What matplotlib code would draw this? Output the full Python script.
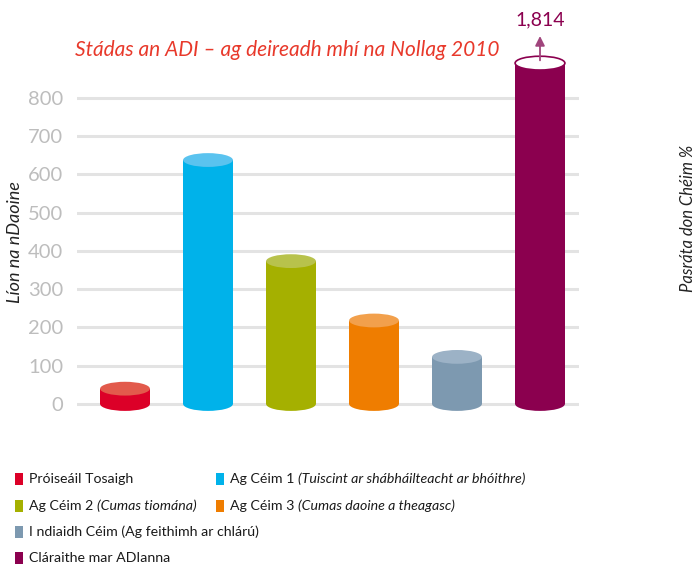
import matplotlib
matplotlib.use("Agg")
import matplotlib.pyplot as plt
from matplotlib.patches import Rectangle, Ellipse

# data
categories = ["Próiseáil Tosaigh", "Ag Céim 1", "Ag Céim 2", "Ag Céim 3",
              "I ndiaidh Céim", "Cláraithe mar ADIanna"]
values = [40, 637, 373, 218, 123, 1814]
shown_values = [40, 637, 373, 218, 123, 890]   # last bar is broken, real value in label
side_colors = ["#dc0028", "#00b2ea", "#a5b000", "#ef7d00", "#7d99b0", "#8b004f"]
top_colors = ["#e25a4c", "#5ac3ef", "#b8c24c", "#f2a04c", "#9cb2c6", "#ffffff"]
yticks = [0, 100, 200, 300, 400, 500, 600, 700, 800]

legend_rows = [
    [("Próiseáil Tosaigh", ""), ("Ag Céim 1 ", "(Tuiscint ar shábháilteacht ar bhóithre)")],
    [("Ag Céim 2 ", "(Cumas tiomána)"), ("Ag Céim 3 ", "(Cumas daoine a theagasc)")],
    [("I ndiaidh Céim (Ag feithimh ar chlárú)", "")],
    [("Cláraithe mar ADIanna", "")],
]

font = ["Lato", "DejaVu Sans"]
plt.rcParams["font.family"] = font

W, H = 692, 566
fig = plt.figure(figsize=(W / 100, H / 100), dpi=100)

# axes placed in pixels of the picture
px_per_unit = 38.3 / 100
y0_px = 404
ax_bottom_px, ax_top_px = 420, 10
ax = fig.add_axes([77 / W, 1 - ax_bottom_px / H, (579 - 77) / W, (ax_bottom_px - ax_top_px) / H])
ax.set_ylim(-(ax_bottom_px - y0_px) / px_per_unit, (y0_px - ax_top_px) / px_per_unit)
ax.set_xlim((77 - 125) / 83, (579 - 125) / 83)

for s in ax.spines.values():
    s.set_visible(False)
ax.set_xticks([])
ax.set_yticks(yticks)
ax.tick_params(axis="y", length=0, pad=10, labelsize=14.5, labelcolor="#bdbdbd")
for t in yticks:
    ax.axhline(t, color="#e3e3e3", lw=2.2, zorder=0)

bw = 0.6
eh = 36
for i, (v, sc, tc) in enumerate(zip(shown_values, side_colors, top_colors)):
    ax.add_patch(Ellipse((i, 0), bw, eh, facecolor=sc, edgecolor="none", zorder=2))
    ax.add_patch(Rectangle((i - bw / 2, 0), bw, v, facecolor=sc, edgecolor="none", zorder=2))
    if i == len(values) - 1:
        ax.add_patch(Ellipse((i, v), bw, eh, facecolor=tc, edgecolor=sc, lw=1.2, zorder=3))
    else:
        ax.add_patch(Ellipse((i, v), bw, eh, facecolor=tc, edgecolor="none", zorder=3))

# arrow + label for the broken bar
last = len(values) - 1
ax.annotate("", xy=(last, shown_values[last] + 78), xytext=(last, shown_values[last]),
            arrowprops=dict(arrowstyle="-|>", color="#a0457c", lw=1.3, mutation_scale=14),
            zorder=4, annotation_clip=False)
ax.text(last, shown_values[last] + 112, f"{values[last]:,}", ha="center", va="center",
        color="#8b004f", fontsize=14)

fig.text(75 / W, 1 - 50 / H, "Stádas an ADI – ag deireadh mhí na Nollag 2010",
         color="#e8392b", fontsize=15, style="italic", va="center", ha="left")
fig.text(15 / W, 1 - 242 / H, "Líon na nDaoine", rotation=90, style="italic",
         fontsize=13, va="center", ha="center", color="#222222")
fig.text(688 / W, 1 - 218 / H, "Pasráta don Chéim %", rotation=90, style="italic",
         fontsize=12, va="center", ha="center", color="#222222")

# legend drawn by hand (mixed upright / italic text)
row_y = [479, 506, 532, 558]
col_x = [15, 216]
k = 0
for r, row in enumerate(legend_rows):
    for c, (plain, ital) in enumerate(row):
        x = col_x[c]
        y = row_y[r]
        fig.patches.append(Rectangle((x / W, 1 - (y + 6) / H), 8 / W, 12 / H,
                                     facecolor=side_colors[k], edgecolor="none",
                                     transform=fig.transFigure, figure=fig))
        t = fig.text((x + 14) / W, 1 - y / H, plain, fontsize=10.2,
                     va="center", ha="left", color="#1a1a1a")
        if ital:
            fig.canvas.draw()
            ext = t.get_window_extent()
            fig.text(ext.x1 / W, 1 - y / H, ital, fontsize=10.2,
                     style="italic", va="center", ha="left", color="#1a1a1a")
        k += 1

fig.savefig("out.png", dpi=100)
